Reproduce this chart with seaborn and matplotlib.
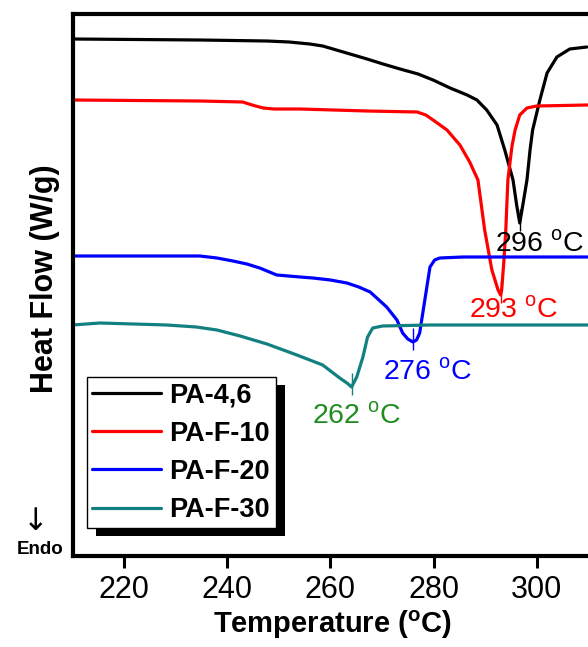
import matplotlib
matplotlib.use("Agg")
import matplotlib.pyplot as plt
import seaborn as sns
import pandas as pd
from matplotlib.patches import Rectangle

# ---------------- data (heat flow in arbitrary units) ----------------
series_names = ["PA-4,6", "PA-F-10", "PA-F-20", "PA-F-30"]
series_colors = ["#000000", "#ff0000", "#0000ff", "#128080"]

t_pa46 = [210.0, 234.7, 247.7, 252.0, 256.0, 258.5, 260.5, 263.8, 267.1, 270.2, 273.5, 277.0,
          279.9, 283.2, 286.5, 288.4, 290.3, 292.3, 293.8, 295.4, 296.1, 296.7, 297.3, 298.1,
          298.7, 299.2, 300.6, 302.0, 303.9, 306.4, 309.7]
hf_pa46 = [517, 516, 515, 514, 512, 510, 507, 502, 497, 492, 487, 482,
           476, 468, 461, 456, 446, 431, 406, 376, 351, 333, 351, 376,
           406, 426, 456, 483, 499, 507, 509]

t_f10 = [210.0, 234.7, 243.0, 244.2, 245.5, 247.0, 249.0, 254.1, 267.1, 276.8, 278.5, 279.9,
         282.6, 285.1, 287.0, 288.6, 289.9, 291.3, 292.5, 293.0, 293.2, 293.6, 294.0, 294.4,
         295.2, 295.8, 296.7, 298.1, 300.0, 309.9]
hf_f10 = [456, 455, 454, 452, 450, 448, 447, 447, 445, 444, 441, 436,
          426, 411, 394, 376, 326, 286, 266, 261, 266, 293, 326, 376,
          410, 426, 441, 448, 450, 451]

t_f20 = [210.0, 234.7, 238.0, 241.1, 243.8, 246.3, 249.6, 254.1, 256.6, 260.0, 263.2, 265.5,
         267.7, 270.9, 272.9, 274.0, 275.0, 276.0, 276.7, 277.3, 278.3, 279.3, 280.2, 281.2,
         285.7, 309.9]
hf_f20 = [300, 300, 298, 295, 292, 288, 281, 279, 278, 276, 273, 269,
          264, 249, 236, 223, 217, 214, 216, 223, 256, 289, 296, 298,
          299, 299]

t_f30 = [210.0, 215.3, 228.3, 234.0, 238.0, 242.5, 247.7, 253.5, 258.5, 261.8, 263.2, 264.1,
         265.1, 266.3, 267.2, 268.2, 270.1, 279.3, 309.9]
hf_f30 = [231, 233, 231, 229, 226, 220, 212, 201, 191, 178, 173, 169,
          179, 199, 219, 228, 230, 231, 231]

peak_labels = ["296", "293", "276", "262"]
peak_text_colors = ["#000000", "#ff0000", "#0000ff", "#1e8c1e"]
peak_text_pos = [(291.9, 304), (286.8, 238), (270.2, 176), (256.4, 133)]

x_ticks = [220, 240, 260, 280, 300]

# ---------------- styling ----------------
sns.set_style("ticks")
plt.rcParams["font.family"] = ["Liberation Sans", "DejaVu Sans"]
plt.rcParams["mathtext.fontset"] = "custom"
plt.rcParams["mathtext.rm"] = "Liberation Sans"
plt.rcParams["mathtext.bf"] = "Liberation Sans:bold"
plt.rcParams["text.color"] = "black"
plt.rcParams["axes.labelcolor"] = "black"
plt.rcParams["xtick.color"] = "black"
plt.rcParams["ytick.color"] = "black"

W, H = 588, 647
fig = plt.figure(figsize=(W / 100, H / 100), dpi=100)
ax_left, ax_right, ax_top, ax_bottom = 72.5, 593.5, 14, 556
ax = fig.add_axes([ax_left / W, (H - ax_bottom) / H, (ax_right - ax_left) / W, (ax_bottom - ax_top) / H])

frames = []
for name, t, hf in zip(series_names, [t_pa46, t_f10, t_f20, t_f30], [hf_pa46, hf_f10, hf_f20, hf_f30]):
    frames.append(pd.DataFrame({"T": t, "HF": hf, "sample": name}))
df = pd.concat(frames, ignore_index=True)

for name, col in zip(series_names, series_colors):
    sub = df[df["sample"] == name]
    sns.lineplot(data=sub, x="T", y="HF", color=col, lw=2.3, label=name,
                 estimator=None, sort=False, ax=ax)

# peak markers and labels
for name, col, tcol, lab, (tx, ty) in zip(series_names, series_colors, peak_text_colors,
                                          peak_labels, peak_text_pos):
    sub = df[df["sample"] == name]
    i = sub["HF"].idxmin()
    tp, vp = sub.loc[i, "T"], sub.loc[i, "HF"]
    ax.vlines(tp, vp - 8, vp + 14, color=col, lw=1.0)
    ax.text(tx, ty, lab + r" $^{\mathregular{o}}$C", color=tcol, fontsize=20.5,
            ha="left", va="baseline")

ax.set_xlim(210, 311)
ax.set_ylim(0, 542)
ax.set_xticks(x_ticks)
ax.set_xticklabels([str(v) for v in x_ticks])
ax.set_yticks([])
ax.tick_params(axis="x", direction="out", length=8.5, width=2.2, labelsize=22, pad=5,
               colors="black")
for s in ax.spines.values():
    s.set_linewidth(3)
    s.set_color("black")

ax.set_xlabel(r"Temperature ($^{\mathbf{o}}$C)", fontsize=21, fontweight="bold", labelpad=3)
ax.set_ylabel("Heat Flow (W/g)", fontsize=22, fontweight="bold")
ax.yaxis.set_label_coords(-0.024, 0.511)

fig.text(36 / W, 1 - 521 / H, "\u2193", fontsize=22, ha="center", va="center",
         family="DejaVu Sans")
fig.text(40 / W, 1 - 549 / H, "Endo", fontsize=13.5, fontweight="bold", ha="center", va="center")

leg = ax.legend(loc="upper left", bbox_to_anchor=((87 - ax_left) / (ax_right - ax_left),
                                                   (ax_bottom - 377) / (ax_bottom - ax_top)),
                borderaxespad=0, frameon=True, fancybox=False, framealpha=1,
                edgecolor="black", prop={"weight": "bold", "size": 19.5},
                handlelength=2.55, handletextpad=0.3, borderpad=0.2, labelspacing=0.45)
leg.get_frame().set_linewidth(1.0)
for h in leg.get_lines():
    h.set_linewidth(2.3)
leg.set_zorder(10)

fig.canvas.draw()
bb = leg.get_frame().get_window_extent().transformed(fig.transFigure.inverted())
dx, dy = 9 / W, 8 / H
shadow = Rectangle((bb.x0 + dx, bb.y0 - dy), bb.width, bb.height, transform=fig.transFigure,
                   facecolor="black", edgecolor="none", zorder=9, clip_on=False)
ax.add_patch(shadow)

fig.savefig("out.png", dpi=100)
